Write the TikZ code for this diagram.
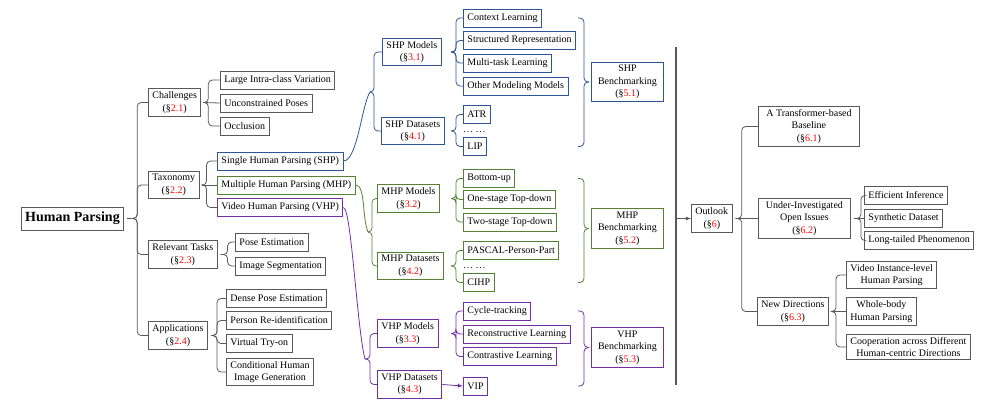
\documentclass[tikz,border=0pt]{standalone}
\usepackage{fontspec}
\setmainfont{Liberation Serif}
\usetikzlibrary{arrows}
\definecolor{linegray}{RGB}{89,89,89}
\definecolor{shpblue}{RGB}{47,85,151}
\definecolor{mhpgreen}{RGB}{84,130,53}
\definecolor{vhppurple}{RGB}{112,48,160}
\newcommand{\sno}[1]{(\S\textcolor{red}{#1})}

\begin{document}
\begin{tikzpicture}[x=1pt, y=-1pt,
  box/.style={draw=linegray, line width=0.9pt, inner xsep=4pt, inner ysep=3pt, minimum height=18pt, align=center, font=\fontsize{10}{12.5}\selectfont},
  shpbox/.style={box, draw=shpblue},
  mhpbox/.style={box, draw=mhpgreen},
  vhpbox/.style={box, draw=vhppurple},
  benchbox/.style={minimum width=72pt},
  conn/.style={line width=0.8pt, rounded corners=4pt, draw=linegray}]
\useasboundingbox (0,0) rectangle (1002,402);

\node[box, font=\fontsize{14}{16}\bfseries\selectfont, minimum height=23pt] (hp) at (72.5,218.5) {Human Parsing};

\node[box, anchor=west] (chal) at (148,102.5) {Challenges\\\sno{2.1}};
\node[box, anchor=west] (tax) at (148,185) {Taxonomy\\\sno{2.2}};
\node[box, anchor=west] (rel) at (148,254.5) {Relevant Tasks\\\sno{2.3}};
\node[box, anchor=west] (app) at (148,335.5) {Applications\\\sno{2.4}};

\node[box, anchor=west] (liv) at (220,80) {Large Intra-class Variation};
\node[box, anchor=west] (ucp) at (220,103) {Unconstrained Poses};
\node[box, anchor=west] (occ) at (220,126) {Occlusion};

\node[shpbox, anchor=west] (shp) at (217,161) {Single Human Parsing (SHP)};
\node[mhpbox, anchor=west] (mhp) at (217,185) {Multiple Human Parsing (MHP)};
\node[vhpbox, anchor=west] (vhp) at (217,207.5) {Video Human Parsing (VHP)};

\node[box, anchor=west] (pose) at (235,242) {Pose Estimation};
\node[box, anchor=west] (seg) at (235,266) {Image Segmentation};

\node[box, anchor=west] (dpe) at (226,298.5) {Dense Pose Estimation};
\node[box, anchor=west] (reid) at (226,320.5) {Person Re-identification};
\node[box, anchor=west] (vto) at (226,343.5) {Virtual Try-on};
\node[box, anchor=west] (chig) at (226,372) {Conditional Human\\Image Generation};

\node[shpbox, anchor=west] (shpm) at (382,52) {SHP Models\\\sno{3.1}};
\node[shpbox, anchor=west] (shpd) at (381,131) {SHP Datasets\\\sno{4.1}};
\node[mhpbox, anchor=west] (mhpm) at (377,198.5) {MHP Models\\\sno{3.2}};
\node[mhpbox, anchor=west] (mhpd) at (377,266) {MHP Datasets\\\sno{4.2}};
\node[vhpbox, anchor=west] (vhpm) at (377,333.5) {VHP Models\\\sno{3.3}};
\node[vhpbox, anchor=west] (vhpd) at (377,384.5) {VHP Datasets\\\sno{4.3}};

\node[shpbox, anchor=west] (cl) at (463,18) {Context Learning};
\node[shpbox, anchor=west] (sr) at (463,40.5) {Structured Representation};
\node[shpbox, anchor=west] (mtl) at (463,63) {Multi-task Learning};
\node[shpbox, anchor=west] (omm) at (463,86) {Other Modeling Models};
\node[shpbox, anchor=west] (atr) at (463,114.5) {ATR};
\node[anchor=base west, inner sep=0pt, font=\fontsize{10}{12.5}\selectfont] (shpdots) at (463,132) {\dots\ \dots};
\node[shpbox, anchor=west] (lip) at (463,146.5) {LIP};

\node[mhpbox, anchor=west] (bu) at (463,178.5) {Bottom-up};
\node[mhpbox, anchor=west] (ost) at (463,199.5) {One-stage Top-down};
\node[mhpbox, anchor=west] (tst) at (463,222) {Two-stage Top-down};
\node[mhpbox, anchor=west] (pascal) at (463,250.5) {PASCAL-Person-Part};
\node[anchor=base west, inner sep=0pt, font=\fontsize{10}{12.5}\selectfont] (mhpdots) at (463,268) {\dots\ \dots};
\node[mhpbox, anchor=west] (cihp) at (463,282.5) {CIHP};

\node[vhpbox, anchor=west] (cyc) at (463,311) {Cycle-tracking};
\node[vhpbox, anchor=west] (rec) at (463,334) {Reconstructive Learning};
\node[vhpbox, anchor=west] (con) at (463,356.5) {Contrastive Learning};
\node[vhpbox, anchor=west] (vip) at (463,386) {VIP};

\node[shpbox, benchbox, anchor=west] (shpb) at (591,82) {SHP\\Benchmarking\\\sno{5.1}};
\node[mhpbox, benchbox, anchor=west] (mhpb) at (591,228.5) {MHP\\Benchmarking\\\sno{5.2}};
\node[vhpbox, benchbox, anchor=west] (vhpb) at (591,347.5) {VHP\\Benchmarking\\\sno{5.3}};

\node[box, anchor=west] (outlook) at (691,218.5) {Outlook\\\sno{6}};
\node[box, anchor=west, minimum width=101pt] (tfb) at (758,126.5) {A Transformer-based\\Baseline\\\sno{6.1}};
\node[box, anchor=west, minimum width=92pt] (uio) at (758,218.5) {Under-Investigated\\Open Issues\\\sno{6.2}};
\node[box, anchor=west] (nd) at (757,311.5) {New Directions\\\sno{6.3}};

\node[box, anchor=west] (ei) at (864,195.5) {Efficient Inference};
\node[box, anchor=west] (sd) at (864,218.5) {Synthetic Dataset};
\node[box, anchor=west] (ltp) at (864,240.5) {Long-tailed Phenomenon};

\node[box, anchor=west] (vil) at (846,275) {Video Instance-level\\Human Parsing};
\node[box, anchor=west] (wb) at (846,311.5) {Whole-body\\Human Parsing};
\node[box, anchor=west] (coop) at (846,347) {Cooperation across Different\\Human-centric Directions};

\coordinate (lcol) at (451,0);
\coordinate (rcol) at (578,0);
\coordinate (shpj) at (370,92);
\coordinate (mhpj) at (368,232);
\coordinate (vhpj) at (365,359);
\coordinate (vtop) at (676,47);
\coordinate (vbot) at (676,385);

\draw[conn] ([xshift=3pt]hp.east) -- ++(10,0) |- (chal.west);
\draw[conn] ([xshift=3pt]hp.east) -- ++(10,0) |- (tax.west);
\draw[conn] ([xshift=3pt]hp.east) -- ++(10,0) |- (rel.west);
\draw[conn] ([xshift=3pt]hp.east) -- ++(10,0) |- (app.west);

\draw[conn] ([xshift=2pt]chal.east) -- ++(5,0) |- (liv.west);
\draw[conn] ([xshift=2pt]chal.east) -- (ucp.west);
\draw[conn] ([xshift=2pt]chal.east) -- ++(5,0) |- (occ.west);

\draw[conn] ([xshift=2pt]tax.east) -- ++(5,0) |- (shp.west);
\draw[conn] ([xshift=2pt]tax.east) -- (mhp.west);
\draw[conn] ([xshift=2pt]tax.east) -- ++(5,0) |- (vhp.west);

\draw[conn] ([xshift=3pt]rel.east) -- ++(7,0) |- (pose.west);
\draw[conn] ([xshift=3pt]rel.east) -- ++(7,0) |- (seg.west);

\draw[conn] ([xshift=3pt]app.east) -- ++(6,0) |- (dpe.west);
\draw[conn] ([xshift=3pt]app.east) -- ++(6,0) |- (reid.west);
\draw[conn] ([xshift=3pt]app.east) -- ++(6,0) |- (vto.west);
\draw[conn] ([xshift=3pt]app.east) -- ++(6,0) |- (chig.west);

\draw[conn, draw=shpblue] (shp.east) .. controls +(14,0) and +(-8,12) .. (shpj);
\draw[conn, draw=shpblue] (shpj) -- ++(4,0) |- (shpm.west);
\draw[conn, draw=shpblue] (shpj) -- ++(4,0) |- (shpd.west);
\draw[conn, draw=mhpgreen] (mhp.east) .. controls +(10,0) and +(-6,-14) .. (mhpj);
\draw[conn, draw=mhpgreen] (mhpj) -- ++(4,0) |- (mhpm.west);
\draw[conn, draw=mhpgreen] (mhpj) -- ++(4,0) |- (mhpd.west);
\draw[conn, draw=vhppurple] (vhp.east) .. controls +(8,0) and +(-8,-30) .. (vhpj);
\draw[conn, draw=vhppurple] (vhpj) -- ++(5,0) |- (vhpm.west);
\draw[conn, draw=vhppurple] (vhpj) -- ++(5,0) |- (vhpd.west);

\draw[conn, draw=shpblue] (shpm.east -| lcol) -- ++(5,0) |- (cl.west);
\draw[conn, draw=shpblue] (shpm.east -| lcol) -- ++(5,0) |- (sr.west);
\draw[conn, draw=shpblue] (shpm.east -| lcol) -- ++(5,0) |- (mtl.west);
\draw[conn, draw=shpblue] (shpm.east -| lcol) -- ++(5,0) |- (omm.west);
\draw[conn, draw=shpblue] (shpd.east -| lcol) -- ++(5,0) |- (atr.west);
\draw[conn, draw=shpblue] (shpd.east -| lcol) -- ++(5,0) |- (lip.west);

\draw[conn, draw=mhpgreen] (mhpm.east -| lcol) -- ++(5,0) |- (bu.west);
\draw[conn, draw=mhpgreen] (mhpm.east -| lcol) -- ++(5,0) |- (ost.west);
\draw[conn, draw=mhpgreen] (mhpm.east -| lcol) -- ++(5,0) |- (tst.west);
\draw[conn, draw=mhpgreen] (mhpd.east -| lcol) -- ++(5,0) |- (pascal.west);
\draw[conn, draw=mhpgreen] (mhpd.east -| lcol) -- ++(5,0) |- (cihp.west);

\draw[conn, draw=vhppurple] (vhpm.east -| lcol) -- ++(5,0) |- (cyc.west);
\draw[conn, draw=vhppurple] (vhpm.east -| lcol) -- ++(5,0) |- (rec.west);
\draw[conn, draw=vhppurple] (vhpm.east -| lcol) -- ++(5,0) |- (con.west);
\draw[conn, draw=vhppurple, -latex] (vhpd.east) -- (vip.west);

\draw[conn, draw=shpblue] (cl -| rcol) -- ++(6,0) |- ([xshift=-2pt]shpb.west);
\draw[conn, draw=shpblue] (lip -| rcol) -- ++(6,0) |- ([xshift=-2pt]shpb.west);
\draw[conn, draw=mhpgreen] (bu -| rcol) -- ++(6,0) |- ([xshift=-2pt]mhpb.west);
\draw[conn, draw=mhpgreen] (cihp -| rcol) -- ++(6,0) |- ([xshift=-2pt]mhpb.west);
\draw[conn, draw=vhppurple] (cyc -| rcol) -- ++(6,0) |- ([xshift=-2pt]vhpb.west);
\draw[conn, draw=vhppurple] (vip -| rcol) -- ++(6,0) |- ([xshift=-2pt]vhpb.west);

\draw[linegray, line width=1.5pt] (vtop) -- (vbot);
\draw[conn, -latex] (outlook.west -| vtop) -- (outlook.west);

\draw[conn] ([xshift=3pt]outlook.east) -- ++(6,0) |- (tfb.west);
\draw[conn] ([xshift=3pt]outlook.east) -- (uio.west);
\draw[conn] ([xshift=3pt]outlook.east) -- ++(6,0) |- (nd.west);

\draw[conn] ([xshift=3pt]uio.east) -- ++(7,0) |- (ei.west);
\draw[conn] ([xshift=3pt]uio.east) -- (sd.west);
\draw[conn] ([xshift=3pt]uio.east) -- ++(7,0) |- (ltp.west);

\draw[conn] ([xshift=2pt]nd.east) -- ++(5,0) |- (vil.west);
\draw[conn] ([xshift=2pt]nd.east) -- (wb.west);
\draw[conn] ([xshift=2pt]nd.east) -- ++(5,0) |- (coop.west);
\end{tikzpicture}
\end{document}
